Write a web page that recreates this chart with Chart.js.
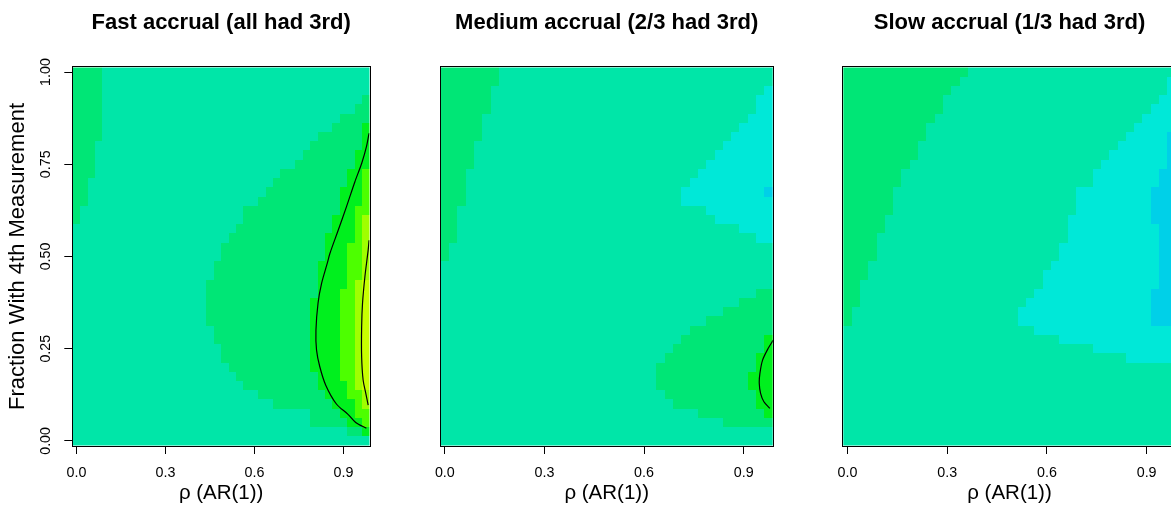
<!DOCTYPE html>
<html>
<head>
<meta charset="utf-8">
<script src="https://cdn.jsdelivr.net/npm/chart.js@4"></script>
<style>
  html, body { margin: 0; padding: 0; background: #fff; overflow: hidden; }
  body { position: relative; width: 1171px; height: 508px; }
  .panel { position: absolute; top: 0; height: 508px; }
</style>
</head>
<body>
<div class="panel" style="left:0;width:390px"><canvas id="fast"></canvas></div>
<div class="panel" style="left:420px;width:370px"><canvas id="medium"></canvas></div>
<div class="panel" style="left:823px;width:370px"><canvas id="slow"></canvas></div>
<script>
// grid of the simulation: AR(1) correlation by fraction with a 4th measurement
const rhoGrid = [0, 0.025, 0.05, 0.075, 0.1, 0.125, 0.15, 0.175, 0.2, 0.225,
  0.25, 0.275, 0.3, 0.325, 0.35, 0.375, 0.4, 0.425, 0.45, 0.475,
  0.5, 0.525, 0.55, 0.575, 0.6, 0.625, 0.65, 0.675, 0.7, 0.725,
  0.75, 0.775, 0.8, 0.825, 0.85, 0.875, 0.9, 0.925, 0.95, 0.975];
const fracGrid = [0, 0.025, 0.05, 0.075, 0.1, 0.125, 0.15, 0.175, 0.2, 0.225,
  0.25, 0.275, 0.3, 0.325, 0.35, 0.375, 0.4, 0.425, 0.45, 0.475,
  0.5, 0.525, 0.55, 0.575, 0.6, 0.625, 0.65, 0.675, 0.7, 0.725,
  0.75, 0.775, 0.8, 0.825, 0.85, 0.875, 0.9, 0.925, 0.95, 0.975, 1];

const rhoTicks = [0, 0.3, 0.6, 0.9];
const fracTicks = [0, 0.25, 0.5, 0.75, 1];

// colour bands, lowest to highest
const bandColors = {
  A: '#00D0E8', B: '#00E8D8', C: '#00E6A8', D: '#00E676',
  E: '#00F01E', F: '#4DFF00', G: '#A0FF00', H: '#C8FF00'
};

// band per cell, run-length coded; one string per fraction row, from 1.00 down to 0.00
const fastRows = [
  'D4 C36', 'D4 C36', 'D4 C36', 'D4 C35 D1', 'D4 C34 D2', 'D4 C32 D4',
  'D4 C31 D4 E1', 'D4 C29 D6 E1', 'D3 C29 D7 E1', 'D3 C28 D7 E2', 'D3 C27 D8 E2',
  'D3 C25 D9 E2 F1', 'D2 C25 D10 E2 F1', 'D2 C24 D10 E3 F1', 'D2 C23 D11 E3 F1',
  'D1 C22 D13 E2 F2', 'D1 C22 D12 E3 F1 G1', 'C22 D13 E3 F1 G1', 'C21 D13 E4 F1 G1',
  'C20 D14 E3 F2 G1', 'C20 D14 E3 F2 G1', 'C19 D14 E4 F2 G1', 'C19 D14 E4 F2 G1',
  'C18 D15 E4 F1 G1 H1', 'C18 D15 E3 F2 G1 H1', 'C18 D14 E4 F2 G1 H1',
  'C18 D14 E4 F2 G1 H1', 'C18 D14 E4 F2 G1 H1', 'C19 D13 E4 F2 G1 H1',
  'C19 D13 E4 F2 G1 H1', 'C20 D12 E4 F2 G1 H1', 'C20 D12 E4 F2 G1 H1',
  'C21 D11 E4 F2 G1 H1', 'C22 D11 E3 F2 G1 H1', 'C23 D10 E4 F1 G1 H1',
  'C25 D9 E3 F2 G1', 'C27 D8 E3 F1 G1', 'C32 D4 E2 F2', 'C32 D5 E2 F1',
  'C37 D2 E1', 'C40'
];
const mediumRows = [
  'D7 C33', 'D7 C33', 'D6 C33 B1', 'D6 C32 B2', 'D6 C32 B2', 'D5 C32 B3',
  'D5 C31 B4', 'D5 C30 B5', 'D4 C30 B6', 'D4 C29 B7', 'D4 C28 B8', 'D3 C28 B9',
  'D3 C27 B10', 'D3 C26 B10 A1', 'D3 C26 B11', 'D2 C30 B8', 'D2 C31 B7',
  'D2 C34 B4', 'D2 C36 B2', 'D1 C39', 'D1 C39', 'C40', 'C40', 'C40',
  'C38 D2', 'C36 D4', 'C34 D6', 'C32 D8', 'C30 D10', 'C29 D10 E1', 'C28 D11 E1',
  'C27 D11 E2', 'C26 D12 E2', 'C26 D11 E3', 'C26 D11 E3', 'C27 D11 E2',
  'C28 D10 E2', 'C31 D8 E1', 'C34 D6', 'C40', 'C40'
];
const slowRows = [
  'D15 C25', 'D14 C25 B1', 'D13 C26 B1', 'D12 C26 B2', 'D12 C25 B3', 'D11 C25 B4',
  'D10 C25 B5', 'D10 C24 B5 A1', 'D9 C24 B6 A1', 'D9 C23 B7 A1', 'D8 C23 B8 A1',
  'D7 C23 B8 A2', 'D7 C23 B8 A2', 'D6 C22 B9 A3', 'D6 C22 B9 A3', 'D6 C22 B9 A3',
  'D5 C22 B10 A3', 'D5 C22 B11 A2', 'D4 C23 B11 A2', 'D4 C22 B12 A2',
  'D4 C22 B12 A2', 'D3 C22 B13 A2', 'D3 C21 B14 A2', 'D2 C22 B14 A2',
  'D2 C21 B14 A3', 'D2 C20 B15 A3', 'D1 C20 B16 A3', 'D1 C20 B16 A3',
  'C23 B17', 'C26 B14', 'C30 B10', 'C34 B6',
  'C40', 'C40', 'C40', 'C40', 'C40', 'C40', 'C40', 'C40', 'C40'
];

// contour lines
const fastOuterRho = [0.986, 0.977, 0.961, 0.938, 0.910, 0.882, 0.854, 0.845, 0.826,
  0.814, 0.807, 0.809, 0.820, 0.840, 0.876, 0.915, 0.941, 0.977];
const fastOuterFrac = [0.834, 0.797, 0.752, 0.702, 0.635, 0.571, 0.508, 0.481, 0.427,
  0.373, 0.300, 0.246, 0.201, 0.151, 0.100, 0.072, 0.050, 0.034];
const fastInnerRho = [0.986, 0.983, 0.972, 0.964, 0.961, 0.961, 0.966, 0.975, 0.983];
const fastInnerFrac = [0.544, 0.517, 0.445, 0.373, 0.309, 0.228, 0.165, 0.129, 0.097];
const mediumLoopRho = [0.989, 0.974, 0.957, 0.949, 0.947, 0.951, 0.961, 0.979];
const mediumLoopFrac = [0.273, 0.251, 0.219, 0.183, 0.156, 0.129, 0.106, 0.088];

const FONT = "'Liberation Sans', Arial, Helvetica, sans-serif";
Chart.defaults.font.family = FONT;
Chart.defaults.color = '#000';

function expandRow(spec) {
  const cells = [];
  spec.split(' ').forEach(tok => {
    const n = parseInt(tok.slice(1), 10);
    for (let k = 0; k < n; k++) cells.push(tok[0]);
  });
  return cells;
}

// cell borders halfway between grid values
function cellEdges(vals) {
  const last = vals.length - 1;
  const e = [vals[0] - (vals[1] - vals[0]) / 2];
  for (let i = 1; i <= last; i++) e.push((vals[i - 1] + vals[i]) / 2);
  e.push(vals[last] + (vals[last] - vals[last - 1]) / 2);
  return e;
}

function levelMap(rows) {
  return {
    id: 'levelMap',
    beforeDatasetsDraw(chart) {
      const { ctx, chartArea: a, scales: { x, y } } = chart;
      const xe = cellEdges(rhoGrid).map(v => Math.round(x.getPixelForValue(v)));
      const ye = cellEdges(fracGrid).map(v => Math.round(y.getPixelForValue(v)));
      ctx.save();
      ctx.beginPath();
      ctx.rect(a.left, a.top, a.width, a.height);
      ctx.clip();
      rows.forEach((spec, r) => {
        const j = rows.length - 1 - r;
        expandRow(spec).forEach((band, i) => {
          ctx.fillStyle = bandColors[band];
          ctx.fillRect(xe[i], ye[j + 1], xe[i + 1] - xe[i], ye[j] - ye[j + 1]);
        });
      });
      ctx.restore();
    },
    afterDatasetsDraw(chart) {
      const { ctx, chartArea: a } = chart;
      ctx.save();
      ctx.strokeStyle = '#000';
      ctx.lineWidth = 1;
      const l = Math.round(a.left) - 0.5, t = Math.round(a.top) - 0.5;
      ctx.strokeRect(l, t, Math.round(a.right) - Math.round(a.left) + 1,
        Math.round(a.bottom) - Math.round(a.top) + 1);
      ctx.restore();
    }
  };
}

function contour(rho, frac) {
  return {
    data: rho.map((v, i) => ({ x: v, y: frac[i] })),
    showLine: true,
    borderColor: '#000',
    borderWidth: 1.2,
    pointRadius: 0,
    tension: 0.3,
    fill: false
  };
}

function makePanel(id, title, rows, lines, withY, padLeft) {
  const yScale = {
    type: 'linear',
    display: withY,
    min: -0.0125,
    max: 1.0125,
    afterBuildTicks: s => { s.ticks = fracTicks.map(v => ({ value: v })); },
    grid: { drawOnChartArea: false, drawTicks: true, tickLength: 8.5, color: '#000', lineWidth: 1 },
    border: { display: false },
    ticks: {
      autoSkip: false, minRotation: 90, maxRotation: 90, crossAlign: 'center',
      padding: 3.9, font: { size: 14.3 }, color: '#000',
      callback: v => v.toFixed(2)
    },
    title: {
      display: true, text: 'Fraction With 4th Measurement', color: '#000',
      font: { size: 22 }, padding: { top: 4.3, bottom: 0 }
    }
  };
  if (withY) yScale.afterFit = s => { s.width = 72.8; };

  new Chart(document.getElementById(id), {
    type: 'scatter',
    data: { datasets: lines },
    plugins: [levelMap(rows)],
    options: {
      responsive: true,
      maintainAspectRatio: false,
      animation: false,
      events: [],
      layout: { padding: { left: padLeft, right: withY ? 20.5 : 17.3, top: 0, bottom: 0 } },
      plugins: {
        legend: { display: false },
        tooltip: { enabled: false },
        title: {
          display: true,
          text: title,
          fullSize: false,
          color: '#000',
          font: { size: 22, weight: 'bold', lineHeight: 1.2 },
          padding: { top: 9.5, bottom: 31.5 }
        }
      },
      scales: {
        x: {
          type: 'linear',
          min: -0.0125,
          max: 0.9875,
          afterBuildTicks: s => { s.ticks = rhoTicks.map(v => ({ value: v })); },
          afterFit: s => { s.height = 62.5; },
          grid: { drawOnChartArea: false, drawTicks: true, tickLength: 8.5, color: '#000', lineWidth: 1 },
          border: { display: false },
          ticks: {
            autoSkip: false, maxRotation: 0, padding: 10.7,
            font: { size: 14.3 }, color: '#000',
            callback: v => v.toFixed(1)
          },
          title: {
            display: true, text: 'ρ (AR(1))', color: '#000',
            font: { size: 20.5 }, padding: { top: 0, bottom: 2.4 }
          }
        },
        y: yScale
      }
    }
  });
}

makePanel('fast', 'Fast accrual (all had 3rd)', fastRows,
  [contour(fastOuterRho, fastOuterFrac), contour(fastInnerRho, fastInnerFrac)], true, 0);
makePanel('medium', 'Medium accrual (2/3 had 3rd)', mediumRows,
  [contour(mediumLoopRho, mediumLoopFrac)], false, 20.7);
makePanel('slow', 'Slow accrual (1/3 had 3rd)', slowRows, [], false, 20.3);
</script>
</body>
</html>
